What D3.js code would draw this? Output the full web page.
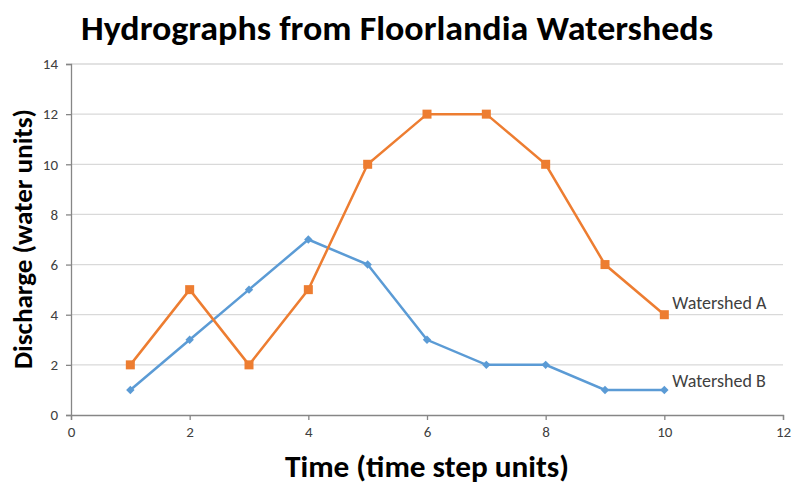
<!DOCTYPE html>
<html>
<head>
<meta charset="utf-8">
<script src="https://cdn.jsdelivr.net/npm/d3@7"></script>
<style>
  body { margin: 0; background: #fff; }
  text { font-family: Carlito, "Open Sans", "DejaVu Sans", sans-serif; }
</style>
</head>
<body>
<div id="chart"></div>
<script>
/* Values. */
let timeSteps = [1, 2, 3, 4, 5, 6, 7, 8, 9, 10];
let watershedA = [2, 5, 2, 5, 10, 12, 12, 10, 6, 4];
let watershedB = [1, 3, 5, 7, 6, 3, 2, 2, 1, 1];
let xTicks = [0, 2, 4, 6, 8, 10, 12];
let yTicks = [0, 2, 4, 6, 8, 10, 12, 14];

let dimensions = {width: 808, height: 493};
let margins = {left: 71, right: 25, top: 64, bottom: 78};

let xscale = d3.scaleLinear()
    .domain([0, 12])
    .range([margins.left, dimensions.width - margins.right]);
let yscale = d3.scaleLinear()
    .domain([0, 14])
    .range([dimensions.height - margins.bottom, margins.top]);

let svg = d3.select("#chart").append("svg")
    .attr("width", dimensions.width)
    .attr("height", dimensions.height);

/* Horizontal gridlines */
svg.append("g")
    .selectAll("line")
    .data(yTicks.filter(d => d > 0))
    .enter()
    .append("line")
        .attr("x1", xscale(0))
        .attr("x2", xscale(12))
        .attr("y1", d => yscale(d))
        .attr("y2", d => yscale(d))
        .attr("stroke", "#d9d9d9")
        .attr("stroke-width", 1.3);

/* Axes */
let xaxis = d3.axisBottom(xscale).tickValues(xTicks).tickSize(5).tickPadding(6);
let yaxis = d3.axisLeft(yscale).tickValues(yTicks).tickSize(5).tickPadding(8);

let gx = svg.append("g")
    .attr("transform", "translate(0, " + yscale(0) + ")")
    .call(xaxis);
let gy = svg.append("g")
    .attr("transform", "translate(" + xscale(0) + ", 0)")
    .call(yaxis);

[gx, gy].forEach(function(g) {
    g.select(".domain").attr("stroke", "#868686").attr("stroke-width", 1.3);
    g.selectAll(".tick line").attr("stroke", "#868686").attr("stroke-width", 1.3);
    g.selectAll(".tick text")
        .attr("fill", "#404040")
        .style("font-size", "15px");
});

/* Series lines and markers */
let line = d3.line()
    .x((d, i) => xscale(timeSteps[i]))
    .y(d => yscale(d));

svg.append("path")
    .attr("d", line(watershedB))
    .attr("stroke", "#5b9bd5")
    .attr("stroke-width", 2.5)
    .attr("fill", "none");

svg.append("path")
    .attr("d", line(watershedA))
    .attr("stroke", "#ed7d31")
    .attr("stroke-width", 2.5)
    .attr("fill", "none");

svg.selectAll("path.diamond")
    .data(watershedB)
    .enter()
    .append("path")
        .attr("class", "diamond")
        .attr("d", d3.symbol().type(d3.symbolDiamond2).size(45))
        .attr("transform", (d, i) => "translate(" + xscale(timeSteps[i]) + "," + yscale(d) + ")")
        .attr("fill", "#5b9bd5");

svg.selectAll("rect.square")
    .data(watershedA)
    .enter()
    .append("rect")
        .attr("class", "square")
        .attr("x", (d, i) => xscale(timeSteps[i]) - 4.5)
        .attr("y", d => yscale(d) - 4.5)
        .attr("width", 9)
        .attr("height", 9)
        .attr("fill", "#ed7d31");

/* Series labels at the end of each line */
let last = timeSteps.length - 1;
svg.append("text")
    .attr("x", xscale(timeSteps[last]) + 8)
    .attr("y", yscale(watershedA[last]) - 6)
    .attr("fill", "#404040")
    .style("font-size", "18px")
    .text("Watershed A");
svg.append("text")
    .attr("x", xscale(timeSteps[last]) + 8)
    .attr("y", yscale(watershedB[last]) - 3)
    .attr("fill", "#404040")
    .style("font-size", "18px")
    .text("Watershed B");

/* Title and axis titles */
svg.append("text")
    .attr("x", 397)
    .attr("y", 40)
    .attr("text-anchor", "middle")
    .attr("textLength", 632)
    .attr("lengthAdjust", "spacingAndGlyphs")
    .style("font-size", "34px")
    .style("font-weight", "bold")
    .text("Hydrographs from Floorlandia Watersheds");

svg.append("text")
    .attr("x", 427)
    .attr("y", 477)
    .attr("text-anchor", "middle")
    .attr("textLength", 284)
    .attr("lengthAdjust", "spacingAndGlyphs")
    .style("font-size", "30px")
    .style("font-weight", "bold")
    .text("Time (time step units)");

svg.append("text")
    .attr("transform", "translate(32, 239) rotate(-90)")
    .attr("text-anchor", "middle")
    .attr("textLength", 260)
    .attr("lengthAdjust", "spacingAndGlyphs")
    .style("font-size", "26px")
    .style("font-weight", "bold")
    .text("Discharge (water units)");
</script>
</body>
</html>
